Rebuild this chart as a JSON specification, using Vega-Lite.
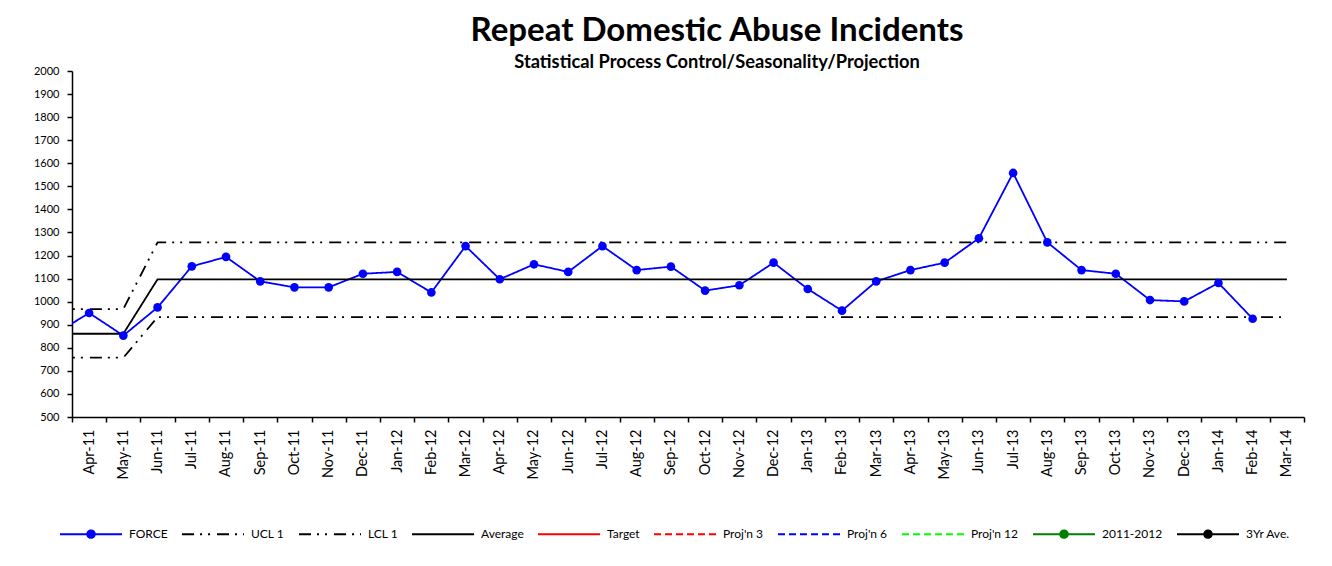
{
  "$schema": "https://vega.github.io/schema/vega-lite/v6.json",
  "autosize": {"type": "none"},
  "width": 1232,
  "height": 346,
  "padding": {"top": 71, "left": 72, "right": 28, "bottom": 149},
  "background": "white",
  "config": {
    "font": "Lato",
    "view": {"stroke": null},
    "axis": {"domainColor": "black", "tickColor": "black", "labelColor": "black", "domainWidth": 1.5, "tickWidth": 1.5, "grid": false, "title": null},
    "legend": {
      "orient": "none",
      "legendX": -13,
      "legendY": 431,
      "direction": "horizontal",
      "symbolSize": 3844,
      "symbolStrokeWidth": 2,
      "labelFontSize": 12,
      "labelColor": "black",
      "labelOffset": 6,
      "columnPadding": 10
    }
  },
  "title": {
    "text": "Repeat Domestic Abuse Incidents",
    "subtitle": "Statistical Process Control/Seasonality/Projection",
    "anchor": "middle",
    "dx": 29,
    "fontSize": 33,
    "fontWeight": "bold",
    "color": "black",
    "subtitleFontSize": 18.3,
    "subtitleFontWeight": "bold",
    "subtitleColor": "black",
    "subtitlePadding": 6,
    "offset": -6
  },
  "data": {
    "values": [
      {"i": 0, "month": "Mar-11", "FORCE": 860, "UCL 1": 968, "LCL 1": 757, "Average": 861},
      {"i": 1, "month": "Apr-11", "FORCE": 951, "UCL 1": 968, "LCL 1": 757, "Average": 861},
      {"i": 2, "month": "May-11", "FORCE": 853, "UCL 1": 968, "LCL 1": 757, "Average": 861},
      {"i": 3, "month": "Jun-11", "FORCE": 975, "UCL 1": 1257, "LCL 1": 933, "Average": 1097},
      {"i": 4, "month": "Jul-11", "FORCE": 1153, "UCL 1": 1257, "LCL 1": 933, "Average": 1097},
      {"i": 5, "month": "Aug-11", "FORCE": 1194, "UCL 1": 1257, "LCL 1": 933, "Average": 1097},
      {"i": 6, "month": "Sep-11", "FORCE": 1088, "UCL 1": 1257, "LCL 1": 933, "Average": 1097},
      {"i": 7, "month": "Oct-11", "FORCE": 1062, "UCL 1": 1257, "LCL 1": 933, "Average": 1097},
      {"i": 8, "month": "Nov-11", "FORCE": 1062, "UCL 1": 1257, "LCL 1": 933, "Average": 1097},
      {"i": 9, "month": "Dec-11", "FORCE": 1121, "UCL 1": 1257, "LCL 1": 933, "Average": 1097},
      {"i": 10, "month": "Jan-12", "FORCE": 1129, "UCL 1": 1257, "LCL 1": 933, "Average": 1097},
      {"i": 11, "month": "Feb-12", "FORCE": 1040, "UCL 1": 1257, "LCL 1": 933, "Average": 1097},
      {"i": 12, "month": "Mar-12", "FORCE": 1241, "UCL 1": 1257, "LCL 1": 933, "Average": 1097},
      {"i": 13, "month": "Apr-12", "FORCE": 1097, "UCL 1": 1257, "LCL 1": 933, "Average": 1097},
      {"i": 14, "month": "May-12", "FORCE": 1162, "UCL 1": 1257, "LCL 1": 933, "Average": 1097},
      {"i": 15, "month": "Jun-12", "FORCE": 1129, "UCL 1": 1257, "LCL 1": 933, "Average": 1097},
      {"i": 16, "month": "Jul-12", "FORCE": 1241, "UCL 1": 1257, "LCL 1": 933, "Average": 1097},
      {"i": 17, "month": "Aug-12", "FORCE": 1137, "UCL 1": 1257, "LCL 1": 933, "Average": 1097},
      {"i": 18, "month": "Sep-12", "FORCE": 1152, "UCL 1": 1257, "LCL 1": 933, "Average": 1097},
      {"i": 19, "month": "Oct-12", "FORCE": 1048, "UCL 1": 1257, "LCL 1": 933, "Average": 1097},
      {"i": 20, "month": "Nov-12", "FORCE": 1071, "UCL 1": 1257, "LCL 1": 933, "Average": 1097},
      {"i": 21, "month": "Dec-12", "FORCE": 1169, "UCL 1": 1257, "LCL 1": 933, "Average": 1097},
      {"i": 22, "month": "Jan-13", "FORCE": 1055, "UCL 1": 1257, "LCL 1": 933, "Average": 1097},
      {"i": 23, "month": "Feb-13", "FORCE": 961, "UCL 1": 1257, "LCL 1": 933, "Average": 1097},
      {"i": 24, "month": "Mar-13", "FORCE": 1088, "UCL 1": 1257, "LCL 1": 933, "Average": 1097},
      {"i": 25, "month": "Apr-13", "FORCE": 1137, "UCL 1": 1257, "LCL 1": 933, "Average": 1097},
      {"i": 26, "month": "May-13", "FORCE": 1169, "UCL 1": 1257, "LCL 1": 933, "Average": 1097},
      {"i": 27, "month": "Jun-13", "FORCE": 1275, "UCL 1": 1257, "LCL 1": 933, "Average": 1097},
      {"i": 28, "month": "Jul-13", "FORCE": 1558, "UCL 1": 1257, "LCL 1": 933, "Average": 1097},
      {"i": 29, "month": "Aug-13", "FORCE": 1257, "UCL 1": 1257, "LCL 1": 933, "Average": 1097},
      {"i": 30, "month": "Sep-13", "FORCE": 1137, "UCL 1": 1257, "LCL 1": 933, "Average": 1097},
      {"i": 31, "month": "Oct-13", "FORCE": 1121, "UCL 1": 1257, "LCL 1": 933, "Average": 1097},
      {"i": 32, "month": "Nov-13", "FORCE": 1007, "UCL 1": 1257, "LCL 1": 933, "Average": 1097},
      {"i": 33, "month": "Dec-13", "FORCE": 1001, "UCL 1": 1257, "LCL 1": 933, "Average": 1097},
      {"i": 34, "month": "Jan-14", "FORCE": 1081, "UCL 1": 1257, "LCL 1": 933, "Average": 1097},
      {"i": 35, "month": "Feb-14", "FORCE": 926, "UCL 1": 1257, "LCL 1": 933, "Average": 1097},
      {"i": 36, "month": "Mar-14", "UCL 1": 1257, "LCL 1": 933, "Average": 1097}
    ]
  },
  "transform": [
    {"fold": ["FORCE", "UCL 1", "LCL 1", "Average"], "as": ["series", "value"]}
  ],
  "encoding": {
    "x": {
      "field": "i", "type": "quantitative",
      "scale": {"domain": [0.5, 36.5], "nice": false, "zero": false},
      "axis": {
        "values": [0.5,1.5,2.5,3.5,4.5,5.5,6.5,7.5,8.5,9.5,10.5,11.5,12.5,13.5,14.5,15.5,16.5,17.5,18.5,19.5,20.5,21.5,22.5,23.5,24.5,25.5,26.5,27.5,28.5,29.5,30.5,31.5,32.5,33.5,34.5,35.5,36.5],
        "labelExpr": "datum.value > 36 ? '' : timeFormat(datetime(2011, datum.value + 2.5, 1), '%b-%y')",
        "labelOffset": 17.1,
        "labelAngle": -90,
        "labelFontSize": 14.5,
        "labelPadding": 7,
        "tickSize": 5,
        "labelOverlap": false,
        "labelBound": false,
        "labelFlush": false
      }
    },
    "y": {
      "field": "value", "type": "quantitative",
      "scale": {"domain": [500, 2000], "nice": false, "zero": false},
      "axis": {"tickCount": 15, "format": "d", "labelFontSize": 11, "labelPadding": 8, "tickSize": 5}
    }
  },
  "layer": [
    {
      "mark": {"type": "line", "clip": true, "strokeWidth": 1.8},
      "encoding": {
        "color": {
          "field": "series", "type": "nominal",
          "scale": {
            "domain": ["FORCE", "UCL 1", "LCL 1", "Average", "Target", "Proj'n 3", "Proj'n 6", "Proj'n 12", "2011-2012", "3Yr Ave."],
            "range": ["#0000FF", "#000000", "#000000", "#000000", "#FF0000", "#FF0000", "#0000FF", "#00FF00", "#008000", "#000000"]
          },
          "legend": {"title": null}
        },
        "strokeDash": {
          "field": "series", "type": "nominal",
          "scale": {
            "domain": ["FORCE", "UCL 1", "LCL 1", "Average", "Target", "Proj'n 3", "Proj'n 6", "Proj'n 12", "2011-2012", "3Yr Ave."],
            "range": [[1, 0], [12, 6, 2, 6, 2, 7], [12, 6, 2, 6, 2, 7], [1, 0], [1, 0], [7, 4], [7, 4], [7, 4], [1, 0], [1, 0]]
          },
          "legend": {"title": null}
        }
      }
    },
    {
      "transform": [{"filter": "datum.series == 'FORCE' && datum.i >= 1 && isValid(datum.value)"}],
      "mark": {"type": "point", "filled": true, "size": 75, "opacity": 1, "color": "#0000FF"}
    },
    {
      "transform": [{"filter": "datum.i < 0"}],
      "mark": {"type": "point", "filled": true, "opacity": 1},
      "encoding": {
        "shape": {
          "field": "series", "type": "nominal",
          "scale": {
            "domain": ["FORCE", "UCL 1", "LCL 1", "Average", "Target", "Proj'n 3", "Proj'n 6", "Proj'n 12", "2011-2012", "3Yr Ave."],
            "range": [
              "M-1,0L1,0M-0.12,0A0.12,0.12,0,1,1,0.12,0A0.12,0.12,0,1,1,-0.12,0Z",
              "M0,-0.12L0,-0.12M-1,0L1,0M0,0.12L0,0.12",
              "M0,-0.12L0,-0.12M-1,0L1,0M0,0.12L0,0.12",
              "M0,-0.12L0,-0.12M-1,0L1,0M0,0.12L0,0.12",
              "M0,-0.12L0,-0.12M-1,0L1,0M0,0.12L0,0.12",
              "M0,-0.12L0,-0.12M-1,0L1,0M0,0.12L0,0.12",
              "M0,-0.12L0,-0.12M-1,0L1,0M0,0.12L0,0.12",
              "M0,-0.12L0,-0.12M-1,0L1,0M0,0.12L0,0.12",
              "M-1,0L1,0M-0.12,0A0.12,0.12,0,1,1,0.12,0A0.12,0.12,0,1,1,-0.12,0Z",
              "M-1,0L1,0M-0.12,0A0.12,0.12,0,1,1,0.12,0A0.12,0.12,0,1,1,-0.12,0Z"
            ]
          },
          "legend": {"title": null}
        },
        "fill": {
          "field": "series", "type": "nominal",
          "scale": {
            "domain": ["FORCE", "UCL 1", "LCL 1", "Average", "Target", "Proj'n 3", "Proj'n 6", "Proj'n 12", "2011-2012", "3Yr Ave."],
            "range": ["#0000FF", "transparent", "transparent", "transparent", "transparent", "transparent", "transparent", "transparent", "#008000", "#000000"]
          },
          "legend": {"title": null}
        },
        "strokeWidth": {
          "field": "series", "type": "ordinal",
          "scale": {
            "domain": ["FORCE", "UCL 1", "LCL 1", "Average", "Target", "Proj'n 3", "Proj'n 6", "Proj'n 12", "2011-2012", "3Yr Ave."],
            "range": [2, 2, 2, 2, 2, 3.5, 3.5, 3.5, 2, 2]
          },
          "legend": {"title": null}
        }
      }
    }
  ]
}
